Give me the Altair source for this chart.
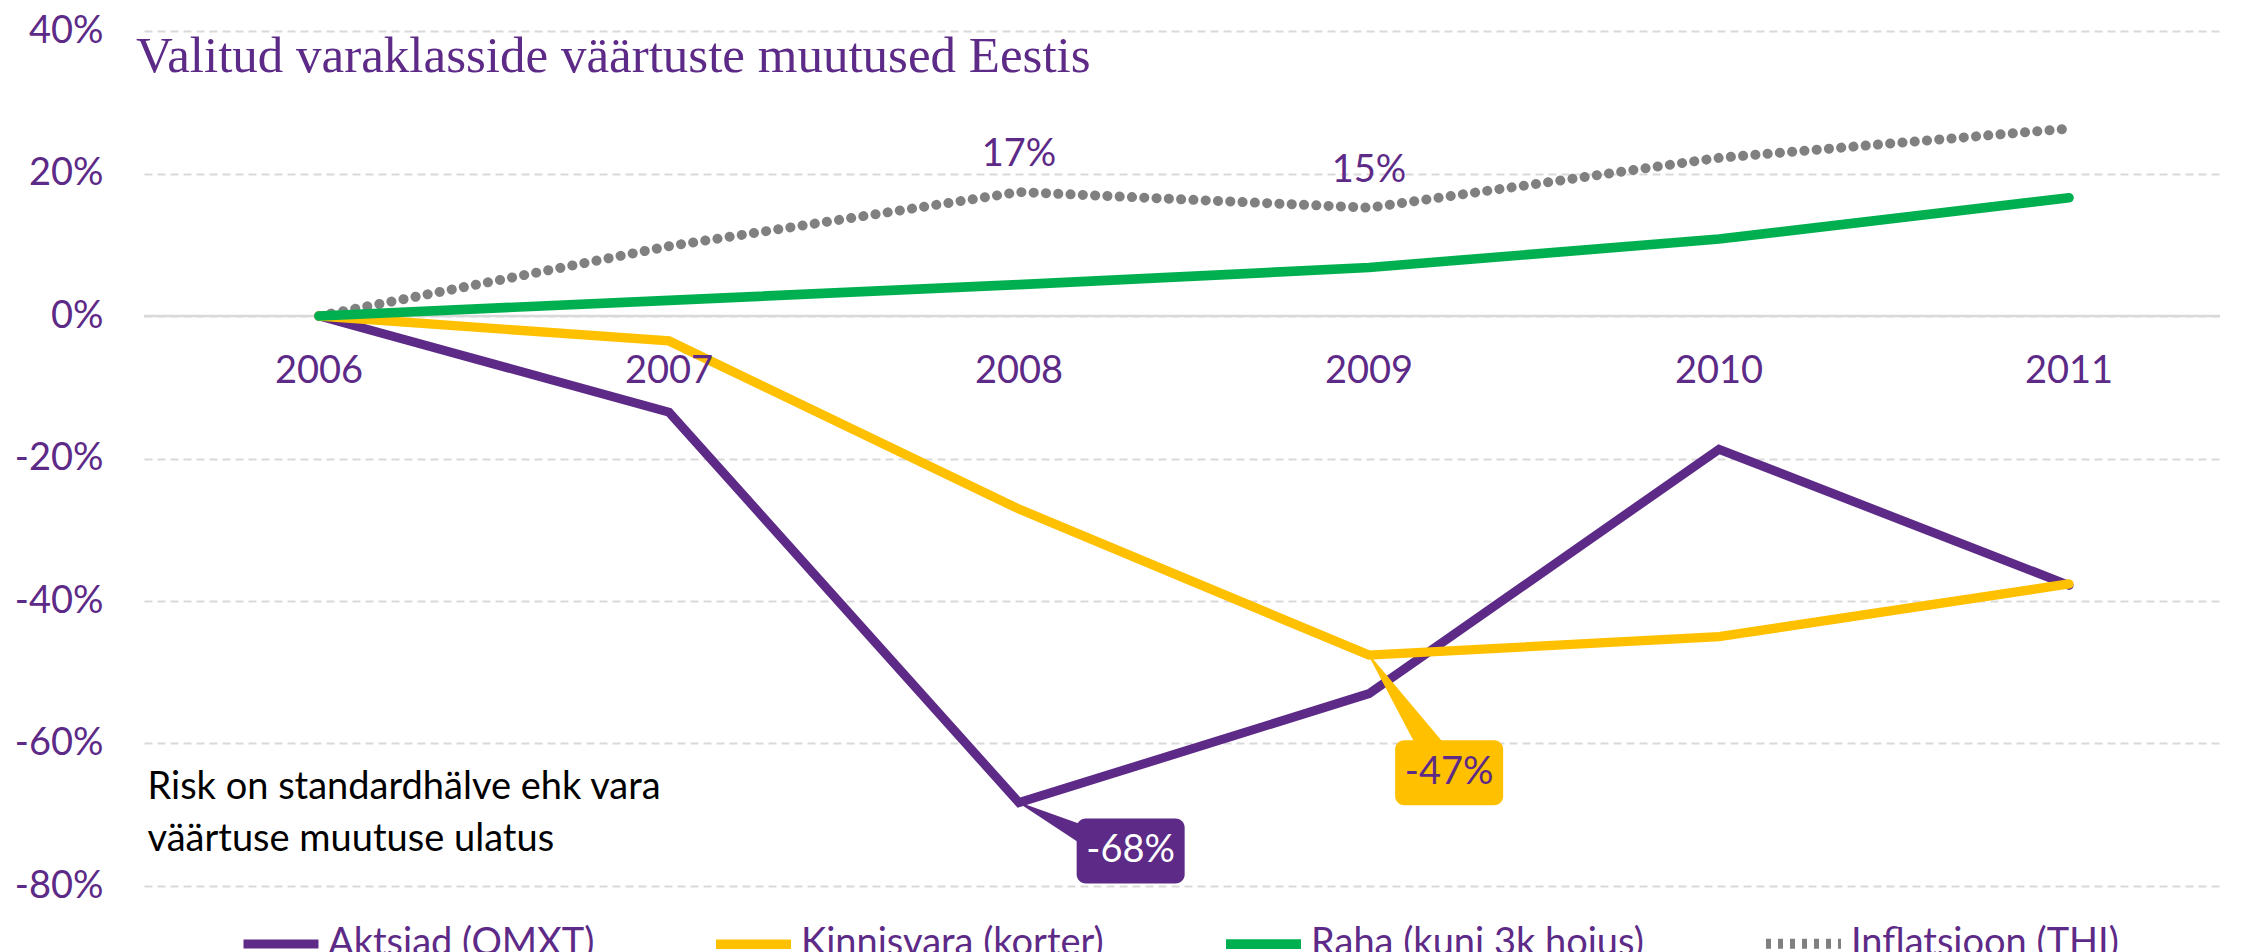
import altair as alt
import pandas as pd

# ---------------- data ----------------
years = [2006, 2007, 2008, 2009, 2010, 2011]
series_names = ["Aktsiad (OMXT)", "Kinnisvara (korter)", "Raha (kuni 3k hoius)", "Inflatsioon (THI)"]
aktsiad = [0.0, -0.135, -0.683, -0.530, -0.187, -0.378]
kinnisvara = [0.0, -0.035, -0.271, -0.476, -0.450, -0.376]
raha = [0.0, 0.022, 0.044, 0.068, 0.108, 0.166]
inflatsioon = [0.0, 0.098, 0.174, 0.152, 0.222, 0.263]

y_ticks = [-0.8, -0.6, -0.4, -0.2, 0.0, 0.2, 0.4]

title_text = "Valitud varaklasside väärtuste muutused Eestis"
note_lines = ["Risk on standardhälve ehk vara", "väärtuse muutuse ulatus"]
note_values = [-0.6625, -0.736]
note_year = 2005.51

# inflation point labels
infl_label_years = [2008, 2009]
infl_label_values = [0.174, 0.152]
infl_label_texts = ["17%", "15%"]

# callouts
callout_texts = ["-68%", "-47%"]
callout_anchor_year = [2008, 2009]
callout_anchor_value = [-0.683, -0.476]
callout_tip_year = [2008.204, 2009.193]
callout_tip_value = [-0.733, -0.617]
callout_box_year = [2008.319, 2009.229]
callout_box_value = [-0.751, -0.641]

# ---------------- styles ----------------
PURPLE = "#5D2A87"
YELLOW = "#FFC000"
GREEN = "#00B050"
GREY = "#808080"
colors = [PURPLE, YELLOW, GREEN, GREY]
legend_dashes = [[1, 0], [1, 0], [1, 0], [5, 7]]
dot_dash = [0.1, 12.2]
widths = [9, 10, 11, 5]
callout_fill = [PURPLE, YELLOW]
callout_text_color = ["white", PURPLE]
callout_wedge = [20, 27]
FONT = "Lato"

x_domain = [2005.5, 2011.4314]
W, H = 2076, 855

# ---------------- frames ----------------
draw_order = ["Inflatsioon (THI)", "Aktsiad (OMXT)", "Kinnisvara (korter)", "Raha (kuni 3k hoius)"]
vals = dict(zip(series_names, [aktsiad, kinnisvara, raha, inflatsioon]))
rows = []
for s in draw_order:
    for yr, v in zip(years, vals[s]):
        rows.append({"series": s, "year": yr, "value": v})
lines_df = pd.DataFrame(rows)

xs = alt.Scale(domain=x_domain, nice=False, zero=False)
ys = alt.Scale(domain=[-0.8, 0.4], nice=False, zero=False)

y_axis = alt.Axis(
    values=y_ticks, format=".0%", labelExpr="replace(datum.label, '\u2212', '-')",
    grid=True, gridColor="#D9D9D9", gridWidth=2,
    gridDash=[8, 5], domain=False, ticks=False, labelPadding=41,
    labelFont=FONT, labelFontSize=38, labelColor=PURPLE, title=None,
)

X = alt.X("year:Q", scale=xs, axis=None)
Y = alt.Y("value:Q", scale=ys, axis=y_axis)

color_enc = alt.Color("series:N", scale=alt.Scale(domain=series_names, range=colors),
                      legend=alt.Legend(title=None))
width_enc = alt.StrokeWidth("series:N", scale=alt.Scale(domain=series_names, range=widths),
                            legend=alt.Legend(title=None))
dash_enc = alt.StrokeDash("series:N", scale=alt.Scale(domain=series_names, range=legend_dashes),
                          legend=alt.Legend(title=None))

# solid zero line
zero_df = pd.DataFrame({"value": [0.0]})
zero_line = alt.Chart(zero_df).mark_rule(color="#D9D9D9", strokeWidth=2.5).encode(y=Y)

# legend-only layer (no rows drawn) carrying the dash style for the legend symbols
legend_layer = alt.Chart(lines_df).transform_filter("false").mark_line().encode(
    x=X, y=Y, color=color_enc, strokeWidth=width_enc, strokeDash=dash_enc, detail="series:N"
)

infl_line = alt.Chart(lines_df).transform_filter(
    alt.datum.series == "Inflatsioon (THI)"
).mark_line(strokeCap="round", strokeDash=dot_dash).encode(
    x=X, y=Y, color=color_enc, strokeWidth=width_enc, detail="series:N"
)

solid_lines = alt.Chart(lines_df).transform_filter(
    alt.datum.series != "Inflatsioon (THI)"
).mark_line(strokeCap="round", strokeJoin="miter").encode(
    x=X, y=Y, color=color_enc, strokeWidth=width_enc, detail="series:N"
)

# year labels (category axis labels sitting just below the 0 line)
year_df = pd.DataFrame({"year": years, "value": [0.0] * len(years), "label": [str(y) for y in years]})
year_labels = alt.Chart(year_df).mark_text(
    font=FONT, fontSize=38, color=PURPLE, dy=56, baseline="middle", align="center"
).encode(x=X, y=Y, text="label:N")

infl_df = pd.DataFrame({"year": infl_label_years, "value": infl_label_values, "label": infl_label_texts})
infl_labels = alt.Chart(infl_df).mark_text(
    font=FONT, fontSize=38, color=PURPLE, dy=-37, baseline="middle", align="center"
).encode(x=X, y=Y, text="label:N")

note_df = pd.DataFrame({"year": [note_year] * len(note_lines), "value": note_values, "label": note_lines})
note = alt.Chart(note_df).mark_text(
    font=FONT, fontSize=38, color="black", align="left", baseline="middle"
).encode(x=X, y=Y, text="label:N")

layers = [zero_line, legend_layer, infl_line, solid_lines, year_labels, infl_labels, note]

for i in range(len(callout_texts)):
    wedge_df = pd.DataFrame({
        "year": [callout_anchor_year[i], callout_tip_year[i]],
        "value": [callout_anchor_value[i], callout_tip_value[i]],
        "w": [1, callout_wedge[i]],
    })
    wedge = alt.Chart(wedge_df).mark_trail(color=callout_fill[i]).encode(
        x=X, y=Y, size=alt.Size("w:Q", scale=None, legend=None)
    )
    box_df = pd.DataFrame({"year": [callout_box_year[i]], "value": [callout_box_value[i]],
                           "label": [callout_texts[i]]})
    box = alt.Chart(box_df).mark_rect(
        width=108, height=65, cornerRadius=9, color=callout_fill[i]
    ).encode(x=X, y=Y)
    txt = alt.Chart(box_df).mark_text(
        font=FONT, fontSize=38, color=callout_text_color[i], baseline="middle", align="center"
    ).encode(x=X, y=Y, text="label:N")
    layers += [wedge, box, txt]

chart = alt.layer(*layers).properties(
    width=W, height=H,
    title=alt.TitleParams(
        text=title_text, anchor="start", frame="group", orient="top",
        font="Liberation Serif", fontSize=51, fontWeight="normal", color=PURPLE,
        baseline="alphabetic", offset=-111, dx=-8,
    ),
    autosize=alt.AutoSizeParams(type="none"),
    padding={"left": 136, "top": 23, "right": 5, "bottom": 66},
).configure_view(stroke=None).configure_legend(
    orient="none", legendX=95, legendY=870, direction="horizontal",
    symbolType="stroke", symbolSize=5625, labelFont=FONT, labelFontSize=38,
    labelColor=PURPLE, labelOffset=5, columnPadding=102, padding=0, labelLimit=0,
    symbolFillColor="transparent",
)

chart.save("out.html", embed_options={"renderer": "svg", "actions": False})
